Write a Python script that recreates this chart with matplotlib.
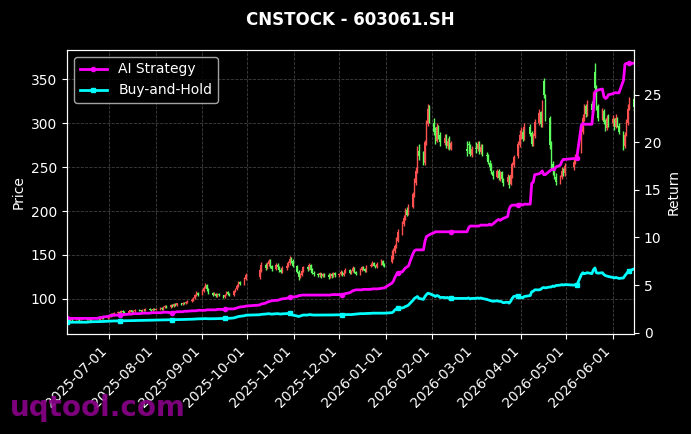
import numpy as np
import pandas as pd
import matplotlib
matplotlib.use("Agg")
import matplotlib.pyplot as plt
import matplotlib.dates as mdates

plt.style.use('dark_background')

# trading calendar (SSE), Jun 2025 - Jun 2026
holidays = ['2025-10-01', '2025-10-02', '2025-10-03', '2025-10-06', '2025-10-07', '2025-10-08',
            '2026-01-01', '2026-01-02',
            '2026-02-16', '2026-02-17', '2026-02-18', '2026-02-19', '2026-02-20', '2026-02-23',
            '2026-04-06', '2026-05-01', '2026-05-04', '2026-05-05']
days = pd.bdate_range('2025-06-03', '2026-06-15')
days = days[~days.isin(pd.to_datetime(holidays))]

# daily OHLC, month by month
opens = [75,76,76,77,77,78,77,77,78,78,77,78,76,78,79,78,77,78,79,78,
         79,81,83,82,84,85,84,86,85,84,86,87,85,86,88,87,86,88,87,89,88,87,89,
         88,89,90,89,91,92,91,93,92,94,93,95,94,96,95,97,98,99,101,104,107,
         105,109,113,116,111,107,105,106,103,106,104,102,105,108,106,104,109,111,115,119,117,123,
         125,133,139,135,140,143,137,134,139,136,133,131,135,138,141,146,143,
         138,131,125,127,132,136,134,139,133,130,128,127,129,126,128,127,125,128,126,129,
         127,128,131,127,130,133,129,132,135,131,128,133,136,134,132,137,139,141,138,136,140,143,139,
         142,148,154,160,166,175,185,192,201,197,204,218,232,245,268,263,254,277,299,318,
         300,291,280,294,286,277,284,274,281,271,270,276,267,264,
         272,270,277,267,274,264,263,255,251,244,239,246,237,244,235,233,238,231,240,252,262,275,
         285,290,283,295,289,277,285,300,312,298,348,330,306,276,253,246,239,234,239,245,243,
         250,257,262,268,290,305,319,311,322,316,358,340,319,305,314,302,294,306,
         300,304,296,305,297,289,274,287,300,318,327]
highs = [77,77,78,78,79,79,78,79,80,79,79,79,78,80,80,79,79,80,80,80,
         82,84,84,85,86,86,87,87,86,87,88,88,87,89,89,88,89,89,90,90,89,90,90,
         90,91,91,92,93,93,94,94,95,95,96,96,97,97,98,99,101,102,106,109,108,
         111,115,118,117,112,108,108,107,107,107,105,106,109,109,107,110,113,117,121,121,125,130,
         136,142,141,142,146,145,139,141,141,138,135,137,140,143,149,148,145,
         139,133,129,134,138,138,141,140,135,132,130,131,130,129,130,129,130,130,131,131,
         130,133,132,131,135,134,133,137,136,132,135,138,137,135,139,141,143,142,139,142,145,144,141,
         156,158,163,170,179,189,195,203,204,208,222,237,250,274,276,268,281,303,322,321,
         306,296,300,298,290,287,288,283,285,280,279,279,276,274,
         278,280,279,276,276,267,265,258,254,247,248,248,246,246,238,242,241,244,256,264,280,292,
         296,293,300,299,291,289,305,316,314,326,351,333,308,280,257,250,243,241,250,249,254,
         259,265,270,295,310,322,322,326,325,335,368,343,322,317,316,305,309,310,
         309,306,310,307,300,291,290,305,322,330,337]
lows = [74,74,75,75,76,76,75,76,77,76,76,75,75,77,77,76,76,77,77,77,
        78,80,81,81,83,83,83,84,83,83,85,84,84,85,86,85,85,86,86,87,86,86,87,
        87,88,88,88,90,90,90,91,91,92,92,93,93,94,94,96,97,98,100,103,103,
        104,108,112,109,106,103,104,102,102,103,101,101,104,105,103,103,108,110,114,116,116,122,
        123,131,133,134,138,135,132,133,134,131,129,129,133,136,139,141,136,
        129,122,124,126,131,132,133,131,128,126,125,125,124,125,125,123,124,124,125,125,
        125,127,126,126,129,128,128,131,130,127,127,132,133,131,131,136,138,137,135,135,139,138,136,
        141,146,152,158,165,173,183,190,194,195,203,216,230,243,258,252,252,275,297,300,
        286,276,278,282,274,275,272,271,269,269,263,266,262,261,
        266,268,265,265,262,258,253,247,242,236,237,235,234,233,228,231,226,229,238,250,260,273,
        282,279,281,285,274,274,283,298,296,296,328,302,270,248,241,236,229,231,236,240,240,
        247,253,259,266,287,302,307,308,313,313,336,315,302,303,299,291,292,296,
        297,292,294,295,287,269,272,285,298,315,314]
closes = [76,75,77,76,78,77,76,78,79,77,78,76,77,79,78,77,78,79,78,79,
          81,83,82,84,85,84,86,85,84,86,87,85,86,88,87,86,88,87,89,88,87,89,88,
          89,90,89,91,92,91,93,92,94,93,95,94,96,95,97,98,99,101,104,107,105,
          109,113,116,111,107,105,106,103,106,104,102,105,108,106,104,109,111,115,119,117,123,127,
          133,139,135,140,143,137,134,139,136,133,131,135,138,141,146,143,138,
          131,125,127,132,136,134,139,133,130,128,127,129,126,128,127,125,128,126,129,127,
          128,131,127,130,133,129,132,135,131,128,133,136,134,132,137,139,141,138,136,140,143,139,137,
          149,155,160,167,176,186,192,200,196,205,219,233,246,268,262,255,278,300,316,305,
          290,281,295,285,278,283,275,280,272,277,268,275,265,271,
          270,276,268,273,265,262,256,250,245,240,245,238,243,236,232,239,230,241,253,261,276,286,
          291,282,296,288,276,286,301,311,299,322,332,305,275,252,245,240,233,238,246,242,251,
          256,261,266,291,306,318,310,323,315,331,340,318,306,313,301,295,306,300,
          305,295,306,298,290,273,286,301,316,326,318]

# cumulative return curves
ai_strategy = [1.5,1.5,1.5,1.5,1.5,1.5,1.5,1.5,1.5,1.5,1.5,1.5,1.5,1.5,1.5,1.55,1.6,1.6,1.65,1.7,
               1.75,1.8,1.8,1.85,1.85,1.85,1.9,1.9,1.9,1.95,1.95,1.95,2.0,2.0,2.0,2.0,2.05,2.05,2.05,2.05,2.1,2.1,2.1,
               2.1,2.1,2.1,2.15,2.15,2.15,2.1,2.1,2.15,2.15,2.2,2.2,2.2,2.25,2.25,2.25,2.3,2.3,2.3,2.3,2.35,
               2.35,2.35,2.35,2.4,2.4,2.4,2.4,2.4,2.45,2.45,2.45,2.45,2.45,2.5,2.5,2.5,2.55,2.6,2.65,2.7,2.75,2.8,
               2.9,3.0,3.1,3.2,3.25,3.3,3.35,3.4,3.4,3.45,3.5,3.55,3.6,3.65,3.7,3.7,3.75,
               3.8,3.9,3.9,3.95,3.95,3.95,3.95,3.95,3.95,3.95,3.95,3.95,3.95,3.95,3.95,3.95,3.95,4.0,4.0,4.0,
               4.0,4.0,4.0,4.05,4.1,4.2,4.3,4.4,4.45,4.5,4.5,4.5,4.55,4.55,4.55,4.55,4.6,4.6,4.6,4.6,4.65,4.7,4.7,
               5.2,5.4,5.8,6.1,6.3,6.4,6.6,6.8,6.9,7.0,8.3,8.6,8.7,8.7,8.7,8.7,9.6,10.1,10.2,10.3,
               10.5,10.6,10.6,10.6,10.6,10.6,10.6,10.6,10.6,10.6,10.6,11.0,11.2,11.2,
               11.2,11.2,11.2,11.3,11.3,11.3,11.3,11.4,11.3,11.4,11.8,11.9,11.8,11.9,12.0,12.2,13.0,13.3,13.4,13.4,13.4,13.5,
               13.5,13.4,13.5,13.5,15.7,15.8,16.6,16.7,16.8,17.0,16.6,16.6,17.0,17.1,17.2,17.1,17.4,17.6,18.0,18.2,18.2,
               18.3,18.3,18.4,21.8,22.0,21.9,21.9,21.9,21.9,23.5,25.3,25.4,25.5,25.6,24.8,24.6,24.7,25.0,
               25.1,25.2,25.2,25.2,25.2,26.5,28.2,28.3,28.3,28.3,28.3]
buy_hold = [1.1,1.1,1.1,1.1,1.1,1.1,1.1,1.1,1.1,1.1,1.12,1.13,1.14,1.15,1.15,1.16,1.17,1.18,1.18,1.2,
            1.2,1.22,1.22,1.23,1.23,1.24,1.24,1.25,1.25,1.26,1.26,1.27,1.27,1.28,1.28,1.29,1.29,1.3,1.3,1.3,1.31,1.31,1.32,
            1.32,1.33,1.33,1.34,1.34,1.35,1.35,1.36,1.36,1.37,1.37,1.38,1.38,1.39,1.4,1.4,1.41,1.42,1.43,1.44,1.45,
            1.46,1.47,1.48,1.47,1.46,1.46,1.47,1.47,1.48,1.48,1.49,1.5,1.5,1.5,1.51,1.55,1.6,1.65,1.7,1.72,1.78,1.84,
            1.88,1.92,1.95,1.97,2.0,1.97,1.95,1.98,2.0,1.97,1.95,1.98,2.0,2.03,2.05,2.02,1.85,
            1.75,1.7,1.75,1.8,1.85,1.85,1.9,1.88,1.86,1.85,1.85,1.86,1.85,1.86,1.86,1.85,1.86,1.86,1.87,1.87,
            1.87,1.88,1.88,1.88,1.9,1.9,1.9,1.92,1.95,1.95,2.0,2.0,2.0,2.0,2.02,2.03,2.05,2.05,2.05,2.05,2.05,2.05,2.05,
            2.1,2.2,2.4,2.5,2.55,2.6,2.65,2.75,2.8,2.9,3.4,3.6,3.7,3.8,3.6,3.5,3.8,4.0,4.15,4.1,
            3.9,3.8,3.9,3.85,3.7,3.7,3.65,3.7,3.6,3.6,3.6,3.65,3.55,3.6,
            3.6,3.65,3.6,3.65,3.6,3.5,3.45,3.4,3.35,3.3,3.35,3.3,3.3,3.25,3.15,3.2,3.1,3.3,3.6,3.8,3.9,3.8,
            3.7,3.65,3.8,3.9,4.3,4.35,4.5,4.5,4.55,4.7,4.75,4.7,4.8,4.8,4.9,4.85,4.95,5.0,5.05,5.0,5.05,
            5.0,5.05,5.0,6.1,6.3,6.2,6.25,6.3,6.2,6.6,6.8,6.3,6.25,6.3,6.1,6.0,5.95,5.9,
            5.8,5.75,5.8,5.75,5.7,5.75,6.0,6.2,6.4,6.5,6.7]

df = pd.DataFrame({'open': opens, 'high': highs, 'low': lows, 'close': closes,
                   'ai': ai_strategy, 'bh': buy_hold}, index=days)

fig, ax1 = plt.subplots(figsize=(6.91, 4.34), dpi=100)
fig.patch.set_facecolor('black')
ax1.set_facecolor('black')
fig.subplots_adjust(left=0.097, right=0.9175, bottom=0.2304, top=0.8848)

# candlesticks: red up, green down
up = df['close'] >= df['open']
colors = np.where(up, '#ff5050', '#5cff5c')
ax1.vlines(df.index, df['low'], df['high'], colors=colors, linewidth=1.0)
ax1.bar(df.index, df['close'] - df['open'], bottom=df['open'], width=1.0, color=colors, linewidth=0)

ax1.set_ylabel('Price')
ax1.set_ylim(60.2, 383)
ax1.grid(True, linestyle='--', linewidth=0.6, color='gray', alpha=0.5)

ax2 = ax1.twinx()
ax2.plot(df.index, df['ai'], color='#ff00ff', linewidth=2, marker='o', markersize=3,
         markevery=25, label='AI Strategy')
ax2.plot(df.index, df['bh'], color='#00ffff', linewidth=2, marker='s', markersize=3,
         markevery=25, label='Buy-and-Hold')
ax2.set_ylabel('Return')
ax2.set_ylim(-0.14, 29.7)
ax2.legend(loc='upper left', facecolor='black', edgecolor='0.8', fontsize=10)

ax1.set_xlim(df.index[0], df.index[-1])
ax1.xaxis.set_major_locator(mdates.MonthLocator())
ax1.xaxis.set_major_formatter(mdates.DateFormatter('%Y-%m-%d'))
plt.setp(ax1.get_xticklabels(), rotation=45, ha='right')

ax1.set_title('CNSTOCK - 603061.SH', fontsize=12, fontweight='bold', color='white', pad=18)

fig.text(10 / 691, 12 / 434, 'uqtool.com', fontsize=20, fontweight='bold',
         color='#8b008b', alpha=0.9, va='bottom', ha='left')

plt.savefig('out.png', dpi=100, facecolor=fig.get_facecolor())
